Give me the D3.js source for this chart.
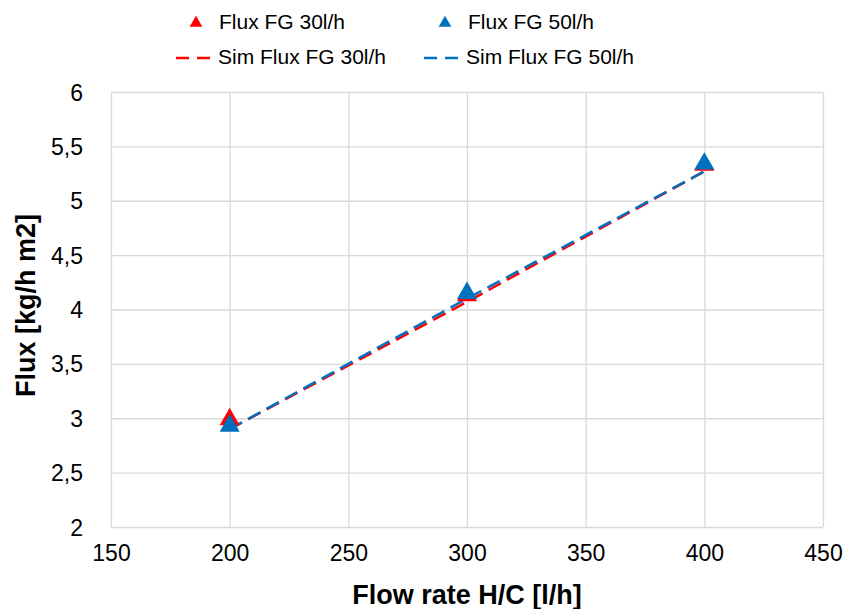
<!DOCTYPE html>
<html>
<head>
<meta charset="utf-8">
<script src="https://cdn.jsdelivr.net/npm/d3@7"></script>
<style>
  body { margin: 0; background: #fff; }
  svg text { font-family: "Liberation Sans", Arial, sans-serif; fill: #000; }
</style>
</head>
<body>
<svg id="chart" width="845" height="609"></svg>
<script>
// data
const flowRates = [200, 300, 400]
const fluxFG30 = [2.99, 4.13, 5.33]
const fluxFG50 = [2.93, 4.15, 5.34]
const simFluxFG30 = [2.90, 4.07, 5.27]
const simFluxFG50 = [2.90, 4.10, 5.27]
const xTicks = [150, 200, 250, 300, 350, 400, 450]
const yTicks = [2, 2.5, 3, 3.5, 4, 4.5, 5, 5.5, 6]

const red = '#ff0000'
const blue = '#0070c0'
const grid = '#d9d9d9'
const fontFamily = '"Liberation Sans", Arial, sans-serif'

const svg = d3.select('#chart')
const plot = { left: 111, right: 823, top: 92, bottom: 527 }

const x = d3.scaleLinear().domain([150, 450]).range([plot.left, plot.right])
const y = d3.scaleLinear().domain([2, 6]).range([plot.bottom, plot.top])
const fmt = d => String(d).replace('.', ',')

// gridlines
svg.append('g')
  .attr('transform', `translate(0,${plot.bottom})`)
  .call(d3.axisBottom(x).tickValues(xTicks).tickSize(-(plot.bottom - plot.top)).tickFormat(''))
  .call(g => g.select('.domain').remove())
  .call(g => g.selectAll('line').attr('stroke', grid).attr('stroke-width', 1.3))

svg.append('g')
  .attr('transform', `translate(${plot.left},0)`)
  .call(d3.axisLeft(y).tickValues(yTicks).tickSize(-(plot.right - plot.left)).tickFormat(''))
  .call(g => g.select('.domain').remove())
  .call(g => g.selectAll('line').attr('stroke', grid).attr('stroke-width', 1.3))

// tick labels
svg.append('g')
  .attr('transform', `translate(0,${plot.bottom + 31})`)
  .call(d3.axisBottom(x).tickValues(xTicks).tickSize(0).tickFormat(fmt))
  .call(g => g.select('.domain').remove())
  .call(g => g.selectAll('text').attr('font-size', 23).attr('dy', 0).attr('fill', '#000')
    .style('font-family', fontFamily))

svg.append('g')
  .attr('transform', `translate(${plot.left - 28},0)`)
  .call(d3.axisLeft(y).tickValues(yTicks).tickSize(0).tickFormat(fmt))
  .call(g => g.select('.domain').remove())
  .call(g => g.selectAll('text').attr('font-size', 23).attr('dy', '0.35em').attr('x', 0).attr('fill', '#000')
    .style('font-family', fontFamily))

// axis titles
svg.append('text')
  .attr('x', (plot.left + plot.right) / 2)
  .attr('y', 604)
  .attr('text-anchor', 'middle')
  .attr('font-size', 27)
  .attr('font-weight', 'bold')
  .text('Flow rate H/C [l/h]')

svg.append('text')
  .attr('transform', `translate(35,${(plot.top + plot.bottom) / 2 - 4}) rotate(-90)`)
  .attr('text-anchor', 'middle')
  .attr('font-size', 27)
  .attr('font-weight', 'bold')
  .text('Flux [kg/h m2]')

// simulated lines
const line = d3.line().x(d => x(d[0])).y(d => y(d[1]))
const simSeries = [
  { values: simFluxFG30, color: red },
  { values: simFluxFG50, color: blue }
]
simSeries.forEach(s => {
  svg.append('path')
    .datum(flowRates.map((f, i) => [f, s.values[i]]))
    .attr('d', line)
    .attr('fill', 'none')
    .attr('stroke', s.color)
    .attr('stroke-width', 2.5)
    .attr('stroke-dasharray', '14,7')
})

// measured points
const tri = d3.symbol().type(d3.symbolTriangle).size(175)
const pointSeries = [
  { values: fluxFG30, color: red },
  { values: fluxFG50, color: blue }
]
pointSeries.forEach(s => {
  svg.append('g').selectAll('path')
    .data(flowRates.map((f, i) => [f, s.values[i]]))
    .join('path')
    .attr('d', tri)
    .attr('transform', d => `translate(${x(d[0])},${y(d[1])})`)
    .attr('fill', s.color)
})

// legend
const legendTri = d3.symbol().type(d3.symbolTriangle).size(70)
const legendItems = [
  { label: 'Flux FG 30l/h', color: red, kind: 'tri', lx: 196, tx: 219, ly: 22 },
  { label: 'Flux FG 50l/h', color: blue, kind: 'tri', lx: 445, tx: 468, ly: 22 },
  { label: 'Sim Flux FG 30l/h', color: red, kind: 'line', lx: 176, tx: 218, ly: 57 },
  { label: 'Sim Flux FG 50l/h', color: blue, kind: 'line', lx: 424, tx: 466, ly: 57 }
]
legendItems.forEach(d => {
  if (d.kind === 'tri') {
    svg.append('path')
      .attr('d', legendTri)
      .attr('transform', `translate(${d.lx},${d.ly + 1})`)
      .attr('fill', d.color)
  } else {
    svg.append('line')
      .attr('x1', d.lx).attr('x2', d.lx + 39)
      .attr('y1', d.ly + 1).attr('y2', d.ly + 1)
      .attr('stroke', d.color)
      .attr('stroke-width', 2.5)
      .attr('stroke-dasharray', '13,8')
  }
  svg.append('text')
    .attr('x', d.tx)
    .attr('y', d.ly)
    .attr('dy', '0.35em')
    .attr('font-size', 21)
    .text(d.label)
})
</script>
</body>
</html>
